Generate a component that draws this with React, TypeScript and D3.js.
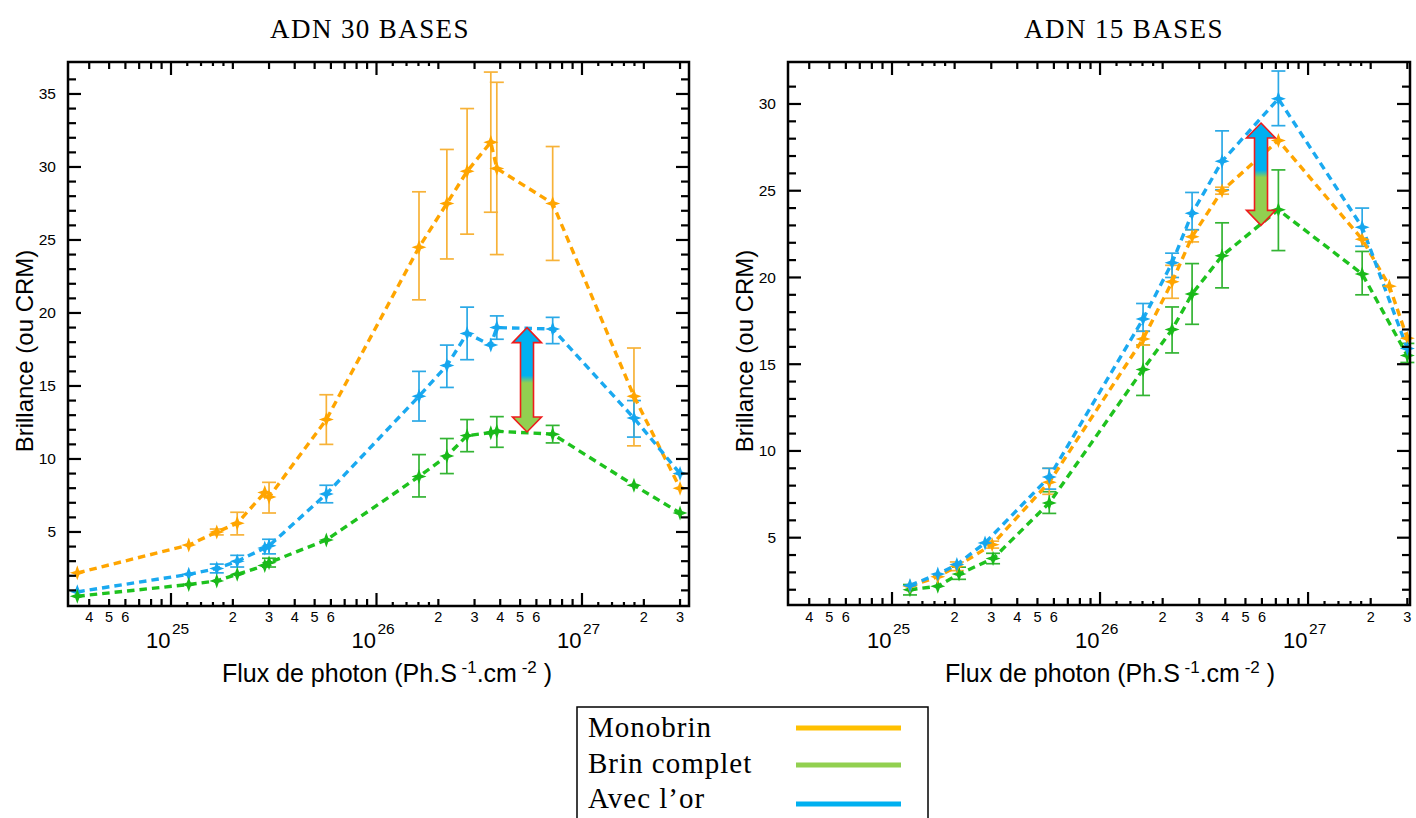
import React from "react";
import * as d3 from "d3";

// ---------- DATA ----------
// ADN 30 BASES
const x30 = [3.5e24, 1.22e25, 1.67e25, 2.1e25, 2.86e25, 3.0e25, 5.7e25, 1.61e26, 2.2e26, 2.76e26, 3.6e26, 3.85e26, 7.2e26, 1.79e27, 3.0e27];
const mono30 = [2.2, 4.1, 5.0, 5.6, 7.7, 7.4, 12.7, 24.5, 27.5, 29.7, 31.7, 29.9, 27.5, 14.3, 8.0];
const mono30Lo = [null, null, 4.8, 4.8, null, 6.3, 11.0, 20.9, 23.7, 25.4, 26.9, 24.0, 23.6, 10.9, null];
const mono30Hi = [null, null, 5.2, 6.35, null, 8.4, 14.4, 28.3, 31.2, 34.0, 36.5, 35.8, 31.4, 17.6, null];
const or30 = [0.9, 2.1, 2.5, 3.0, 3.9, 4.05, 7.6, 14.3, 16.4, 18.6, 17.8, 19.0, 18.9, 12.8, 9.0];
const or30Lo = [null, null, 2.2, 2.6, null, 3.5, 7.0, 12.6, 14.9, 16.8, null, 18.2, 17.9, 11.5, null];
const or30Hi = [null, null, 2.8, 3.4, null, 4.5, 8.2, 16.0, 17.8, 20.4, null, 19.8, 19.7, 14.0, null];
const comp30 = [0.6, 1.4, 1.65, 2.1, 2.7, 2.9, 4.45, 8.8, 10.2, 11.6, 11.8, 11.9, 11.7, 8.2, 6.3];
const comp30Lo = [null, null, null, null, null, 2.6, null, 7.4, 9.0, 10.5, null, 10.8, 11.1, null, null];
const comp30Hi = [null, null, null, null, null, 3.2, null, 10.3, 11.4, 12.7, null, 12.9, 12.3, null, null];

// ADN 15 BASES
const xMono15 = [1.22e25, 1.66e25, 2.05e25, 3.03e25, 5.7e25, 1.61e26, 2.22e26, 2.77e26, 3.86e26, 7.2e26, 1.82e27, 2.46e27, 3.0e27];
const mono15 = [2.2, 2.75, 3.35, 4.6, 8.2, 16.45, 19.75, 22.35, 25.0, 27.9, 22.2, 19.5, 16.5];
const mono15Lo = [null, null, 3.1, 4.4, 7.5, 16.1, 18.8, 22.05, 24.8, null, null, null, null];
const mono15Hi = [null, null, 3.6, 4.8, 9.0, 16.9, 20.7, 22.75, 25.2, null, null, null, null];
const xOr15 = [1.22e25, 1.66e25, 2.05e25, 2.8e25, 5.7e25, 1.61e26, 2.22e26, 2.77e26, 3.86e26, 7.2e26, 1.82e27, 3.0e27];
const or15 = [2.25, 2.9, 3.45, 4.7, 8.5, 17.6, 20.85, 23.7, 26.7, 30.3, 22.9, 15.9];
const or15Lo = [null, null, null, null, 7.8, 16.9, 20.0, 22.75, 25.05, 28.75, 21.8, null];
const or15Hi = [null, null, null, null, 9.0, 18.5, 21.4, 24.9, 28.45, 31.9, 24.0, null];
const xComp15 = [1.22e25, 1.66e25, 2.1e25, 3.06e25, 5.7e25, 1.61e26, 2.22e26, 2.77e26, 3.86e26, 7.2e26, 1.82e27, 3.0e27];
const comp15 = [2.0, 2.2, 2.9, 3.8, 7.0, 14.7, 17.0, 19.05, 21.25, 23.9, 20.2, 15.5];
const comp15Lo = [1.7, null, 2.6, 3.5, 6.4, 13.2, 15.65, 17.3, 19.4, 21.55, 19.0, 15.1];
const comp15Hi = [2.3, null, 3.3, 4.1, 7.65, 16.1, 18.3, 20.8, 23.15, 26.2, 21.5, 16.2];

// Annotation arrows (x, top, bottom in data units)
const arrow30 = [5.4e26, 19.0, 11.85];
const arrow15 = [5.94e26, 28.9, 23.0];

// Axis ticks
const yTicks30 = d3.range(1, 37);
const yTicks15 = d3.range(2, 32);
const xDecades = [1e25, 1e26, 1e27];
const xMinorLabels = [4e24, 5e24, 6e24, 2e25, 3e25, 4e25, 5e25, 6e25, 2e26, 3e26, 4e26, 5e26, 6e26, 2e27, 3e27];

const titles = ["ADN 30 BASES", "ADN 15 BASES"];
const legendNames = ["Monobrin", "Brin complet", "Avec l\u2019or"];
const legendColors = ["#FFC000", "#92D050", "#00B0F0"];

// ---------- STYLE ----------
const C = {
  orange: { line: "#FFA500", mark: "#FFA500", err: "#F7B238" },
  blue: { line: "#1AA9F0", mark: "#15A6EE", err: "#2BA9E6" },
  green: { line: "#1EC21E", mark: "#19B919", err: "#33B433" },
};
const SANS = "'Liberation Sans', Arial, Helvetica, sans-serif";
const SERIF = "'Liberation Serif', 'Times New Roman', serif";

function xTickList(lo: number, hi: number) {
  const out: { v: number; kind: string }[] = [];
  for (let e = 24; e <= 27; e++) {
    const b = Math.pow(10, e);
    out.push({ v: b, kind: "major" });
    [1.2, 1.4, 1.6, 1.8].forEach((m) => out.push({ v: m * b, kind: "small" }));
    for (let m = 2; m <= 9; m++) out.push({ v: m * b, kind: "mid" });
  }
  return out.filter((t) => t.v >= lo * 1.001 && t.v <= hi * 0.999);
}

function star(cx: number, cy: number, R = 7.5, r = 2.8) {
  const pts: string[] = [];
  for (let i = 0; i < 8; i++) {
    const a = (Math.PI / 4) * i - Math.PI / 2;
    const rad = i % 2 === 0 ? R : r;
    pts.push(`${cx + rad * Math.cos(a)},${cy + rad * Math.sin(a)}`);
  }
  return "M" + pts.join("L") + "Z";
}

type Series = { x: number[]; y: number[]; lo: (number | null)[]; hi: (number | null)[]; c: { line: string; mark: string; err: string } };

function Panel(props: {
  x0: number; x1: number; y0: number; y1: number;
  xDom: [number, number]; yDom: [number, number]; yTicks: number[];
  series: Series[]; arrow: number[]; title: string; titleX: number; xLabelX: number; yLabelX: number; gid: string;
}) {
  const { x0, x1, y0, y1, xDom, yDom, yTicks, series, arrow, title, titleX, xLabelX, yLabelX, gid } = props;
  const xs = d3.scaleLog().domain(xDom).range([x0, x1]);
  const ys = d3.scaleLinear().domain(yDom).range([y1, y0]);
  const xt = xTickList(xDom[0], xDom[1]);
  const tlen: Record<string, number> = { major: 13, mid: 7, small: 4 };
  const line = d3.line<[number, number]>().x((d) => xs(d[0])).y((d) => ys(d[1]));

  const ax = xs(arrow[0]);
  const at = ys(arrow[1]);
  const ab = ys(arrow[2]);
  const hw = 14.5, sw = 6.5, hh = 15;
  const arrowPath = `M${ax},${at}L${ax + hw},${at + hh}L${ax + sw},${at + hh}L${ax + sw},${ab - hh}L${ax + hw},${ab - hh}L${ax},${ab}L${ax - hw},${ab - hh}L${ax - sw},${ab - hh}L${ax - sw},${at + hh}L${ax - hw},${at + hh}Z`;

  const yLabCenter = 351;
  return (
    <g>
      <defs>
        <linearGradient id={gid} x1="0" y1="0" x2="0" y2="1">
          <stop offset="0" stopColor="#00B0F0" />
          <stop offset="0.46" stopColor="#00B0F0" />
          <stop offset="0.53" stopColor="#92D050" />
          <stop offset="1" stopColor="#92D050" />
        </linearGradient>
      </defs>
      <text x={titleX} y={38} textAnchor="middle" fontFamily={SERIF} fontSize={27} letterSpacing={1.4}>{title}</text>

      {/* error bars */}
      {series.map((s, si) =>
        s.x.map((xv, i) => {
          const lo = s.lo[i], hi = s.hi[i];
          if (lo == null || hi == null) return null;
          const px = xs(xv);
          return (
            <g key={`e${si}-${i}`} stroke={s.c.err} strokeWidth={1.7} fill="none">
              <line x1={px} x2={px} y1={ys(lo)} y2={ys(hi)} />
              <line x1={px - 7} x2={px + 7} y1={ys(lo)} y2={ys(lo)} />
              <line x1={px - 7} x2={px + 7} y1={ys(hi)} y2={ys(hi)} />
            </g>
          );
        })
      )}
      {/* lines */}
      {series.map((s, si) => (
        <path key={`l${si}`} d={line(s.x.map((xv, i) => [xv, s.y[i]] as [number, number])) || ""} fill="none" stroke={s.c.line} strokeWidth={3.4} strokeDasharray="7.5 5" />
      ))}
      {/* markers */}
      {series.map((s, si) =>
        s.x.map((xv, i) => <path key={`m${si}-${i}`} d={star(xs(xv), ys(s.y[i]))} fill={s.c.mark} />)
      )}

      <path d={arrowPath} fill={`url(#${gid})`} stroke="#EE1C1C" strokeWidth={1.6} />

      {/* frame */}
      <rect x={x0} y={y0} width={x1 - x0} height={y1 - y0} fill="none" stroke="#000" strokeWidth={2.5} />
      {/* y ticks */}
      {yTicks.map((v) => {
        const py = ys(v);
        const L = v % 5 === 0 ? 13 : 8;
        return (
          <g key={`yt${v}`} stroke="#000" strokeWidth={2.2}>
            <line x1={x0} x2={x0 + L} y1={py} y2={py} />
            <line x1={x1} x2={x1 - L} y1={py} y2={py} />
          </g>
        );
      })}
      {yTicks.filter((v) => v % 5 === 0).map((v) => (
        <text key={`yl${v}`} x={x0 - 12} y={ys(v) + 5.5} textAnchor="end" fontFamily={SANS} fontSize={15.5}>{v}</text>
      ))}
      {/* x ticks */}
      {xt.map((t, i) => {
        const px = xs(t.v);
        const L = tlen[t.kind];
        return (
          <g key={`xt${i}`} stroke="#000" strokeWidth={2.2}>
            <line x1={px} x2={px} y1={y1} y2={y1 - L} />
            <line x1={px} x2={px} y1={y0} y2={y0 + L} />
          </g>
        );
      })}
      {xMinorLabels.filter((v) => v >= xDom[0] && v <= xDom[1]).map((v, i) => (
        <text key={`xl${i}`} x={xs(v)} y={622} textAnchor="middle" fontFamily={SANS} fontSize={14.5}>
          {Math.round(v / Math.pow(10, Math.floor(Math.log10(v) + 1e-9)))}
        </text>
      ))}
      {xDecades.map((v) => (
        <g key={`xd${v}`} fontFamily={SANS}>
          <text x={xs(v) - 0.5} y={648} textAnchor="end" fontSize={22}>10</text>
          <text x={xs(v) + 1} y={634} textAnchor="start" fontSize={15.5}>{Math.round(Math.log10(v))}</text>
        </g>
      ))}
      {/* axis labels */}
      <text x={xLabelX} y={682} textAnchor="middle" fontFamily={SANS} fontSize={25}>
        Flux de photon (Ph.S
        <tspan fontSize={17} dy={-9}>{" -1"}</tspan>
        <tspan dy={9}>.cm</tspan>
        <tspan fontSize={17} dy={-9}>{" -2"}</tspan>
        <tspan dy={9}>{" )"}</tspan>
      </text>
      <text transform={`translate(${yLabelX},${yLabCenter}) rotate(-90)`} textAnchor="middle" fontFamily={SANS} fontSize={24}>
        Brillance (ou CRM)
      </text>
    </g>
  );
}

export default function App() {
  const s30: Series[] = [
    { x: x30, y: mono30, lo: mono30Lo, hi: mono30Hi, c: C.orange },
    { x: x30, y: or30, lo: or30Lo, hi: or30Hi, c: C.blue },
    { x: x30, y: comp30, lo: comp30Lo, hi: comp30Hi, c: C.green },
  ];
  const s15: Series[] = [
    { x: xComp15, y: comp15, lo: comp15Lo, hi: comp15Hi, c: C.green },
    { x: xMono15, y: mono15, lo: mono15Lo, hi: mono15Hi, c: C.orange },
    { x: xOr15, y: or15, lo: or15Lo, hi: or15Hi, c: C.blue },
  ];
  const legY = [728, 765, 804];
  const legTextY = [737, 773, 808];
  return (
    <svg width={1416} height={818} style={{ position: "absolute", left: 0, top: 0, background: "#fff" }}>
      <rect x={0} y={0} width={1416} height={818} fill="#fff" />
      <Panel x0={68} x1={689} y0={62} y1={606} xDom={[Math.pow(10, 24.4988), Math.pow(10, 27.5207)]} yDom={[-0.07, 37.19]}
        yTicks={yTicks30} series={s30} arrow={arrow30} title={titles[0]} titleX={370} xLabelX={387} yLabelX={33} gid="g30" />
      <Panel x0={788} x1={1410} y0={62} y1={605} xDom={[Math.pow(10, 24.5), Math.pow(10, 27.49)]} yDom={[1.12, 32.42]}
        yTicks={yTicks15} series={s15} arrow={arrow15} title={titles[1]} titleX={1124} xLabelX={1110} yLabelX={753} gid="g15" />
      {/* legend */}
      <rect x={577} y={707} width={351} height={140} fill="#fff" stroke="#000" strokeWidth={1.5} />
      {legendNames.map((n, i) => (
        <g key={n}>
          <text x={588} y={legTextY[i]} fontFamily={SERIF} fontSize={29} letterSpacing={1}>{n}</text>
          <line x1={796} x2={901} y1={legY[i]} y2={legY[i]} stroke={legendColors[i]} strokeWidth={5} />
        </g>
      ))}
    </svg>
  );
}
